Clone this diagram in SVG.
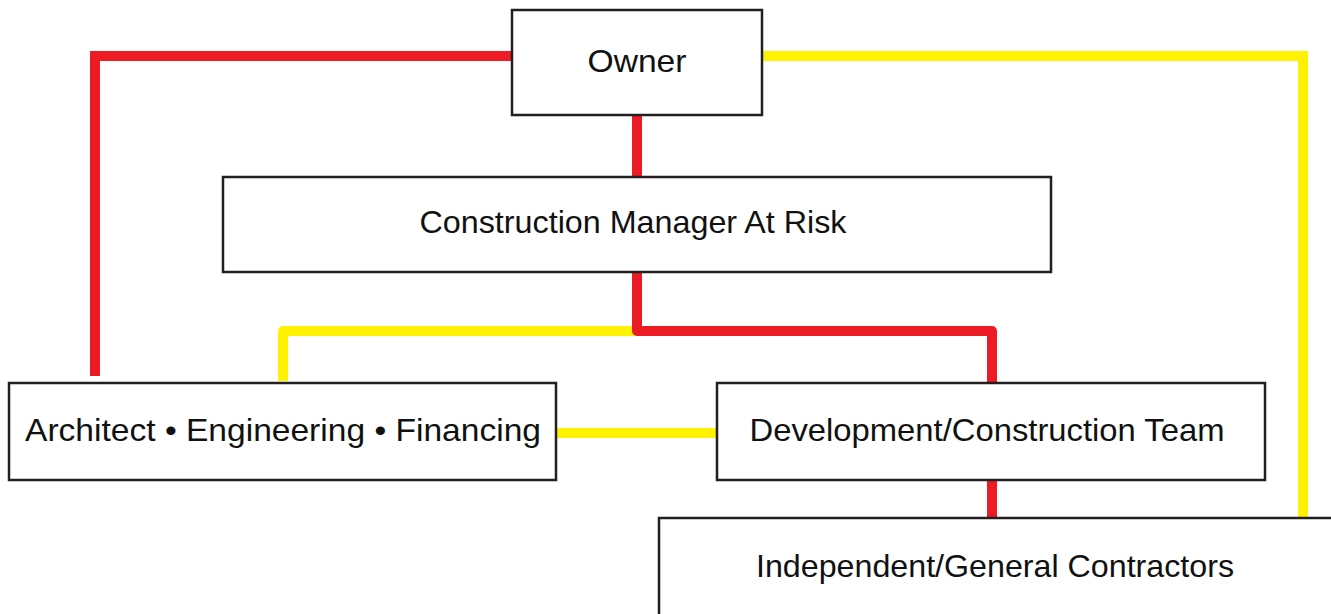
<svg xmlns="http://www.w3.org/2000/svg" width="1331" height="614" viewBox="0 0 1331 614">
<style>
.box{fill:#fff;stroke:#231f20;stroke-width:2.5}
.lbl{font-family:"Liberation Sans",Arial,sans-serif;font-size:32px;fill:#111;text-anchor:middle}
.red{fill:none;stroke:#ed1c24;stroke-width:10;stroke-linejoin:round}
.yel{fill:none;stroke:#fff200;stroke-width:10;stroke-linejoin:round}
</style>
<rect width="1331" height="614" fill="#fff"/>
<g id="connectors">
<path class="red" d="M512 56 H95 V376" style="stroke-linejoin:miter"/>
<path class="yel" d="M762 56 H1303 V518" style="stroke-linejoin:miter"/>
<path class="red" d="M637 115 V177"/>
<path class="yel" d="M637 331 H283 V381"/>
<path class="red" d="M637 272 V331 H992 V383"/>
<path class="yel" d="M556 433 H717"/>
<path class="red" d="M992 480 V518"/>
</g>
<g id="owner"><rect class="box" x="512" y="10" width="250" height="105"/><text class="lbl" x="637" y="72" textLength="99" lengthAdjust="spacingAndGlyphs">Owner</text></g>
<g id="cm"><rect class="box" x="223" y="177" width="828" height="95"/><text class="lbl" x="633" y="233" textLength="427" lengthAdjust="spacingAndGlyphs">Construction Manager At Risk</text></g>
<g id="arch"><rect class="box" x="9" y="383" width="547" height="97"/><text class="lbl" x="283" y="441" textLength="516" lengthAdjust="spacingAndGlyphs">Architect • Engineering • Financing</text></g>
<g id="dev"><rect class="box" x="717" y="383" width="548" height="97"/><text class="lbl" x="987" y="441" textLength="475" lengthAdjust="spacingAndGlyphs">Development/Construction Team</text></g>
<g id="contractors"><rect class="box" x="659" y="518" width="690" height="110"/><text class="lbl" x="995" y="577" textLength="478" lengthAdjust="spacingAndGlyphs">Independent/General Contractors</text></g>
</svg>
